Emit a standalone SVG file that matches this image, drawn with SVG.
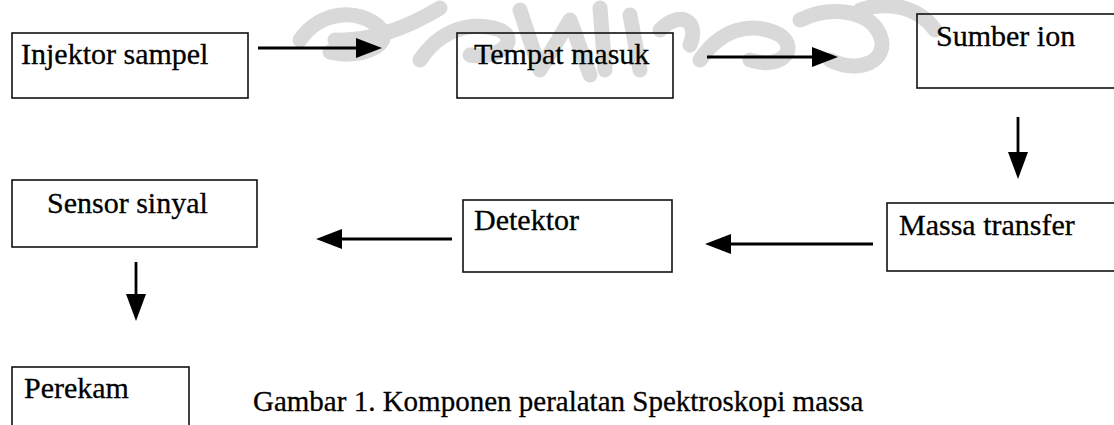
<svg xmlns="http://www.w3.org/2000/svg" width="1114" height="425" viewBox="0 0 1114 425">
  <style>
    .box { fill: none; stroke: #111; stroke-width: 1.6; }
    .lbl { font-family: "Liberation Serif", "Times New Roman", serif; font-size: 30px; fill: #000; stroke: #000; stroke-width: 0.3; }
    .cap { font-family: "Liberation Serif", "Times New Roman", serif; font-size: 29px; fill: #000; stroke: #000; stroke-width: 0.3; }
    .link { stroke: #000; stroke-width: 2.8; fill: none; }
    .tip { fill: #000; }
    .mark { fill: none; stroke: #d9d9d9; stroke-width: 15; stroke-linecap: round; stroke-linejoin: round; }
  </style>

  <rect width="1114" height="425" fill="#fff"/>

  <!-- faint background emblem -->
  <g id="emblem">
    <path class="mark" d="M300,40 C320,10 360,8 380,28 C395,44 360,60 330,52"/>
    <path class="mark" d="M335,40 C380,42 420,20 440,8"/>
    <path class="mark" d="M420,60 C440,30 470,20 500,30 C520,40 500,60 470,55"/>
    <path class="mark" d="M520,10 L540,70 L570,20 L590,75"/>
    <path class="mark" d="M600,8 L605,70 M630,15 L640,70 M660,30 C680,10 700,20 690,45"/>
    <path class="mark" d="M700,60 C720,30 750,20 780,35 C800,50 780,70 750,60"/>
    <path class="mark" d="M800,20 C830,5 870,10 880,35 C890,60 860,75 830,60"/>
    <path class="mark" d="M860,10 C890,0 920,8 935,30"/>
  </g>

  <g id="injektor">
    <rect class="box" x="12" y="33" width="236" height="65"/>
    <text class="lbl" x="21" y="64">Injektor sampel</text>
  </g>
  <g id="tempat">
    <rect class="box" x="457" y="33" width="216" height="65"/>
    <text class="lbl" x="474" y="64">Tempat masuk</text>
  </g>
  <g id="sumber">
    <rect class="box" x="917" y="14" width="200" height="74"/>
    <text class="lbl" x="936" y="46">Sumber ion</text>
  </g>
  <g id="massa">
    <rect class="box" x="887" y="203" width="230" height="68"/>
    <text class="lbl" x="899" y="235">Massa transfer</text>
  </g>
  <g id="detektor">
    <rect class="box" x="463" y="200" width="209" height="72"/>
    <text class="lbl" x="474" y="230">Detektor</text>
  </g>
  <g id="sensor">
    <rect class="box" x="12" y="180" width="245" height="67"/>
    <text class="lbl" x="47" y="213">Sensor sinyal</text>
  </g>
  <g id="perekam">
    <rect class="box" x="12" y="367" width="177" height="70"/>
    <text class="lbl" x="24" y="398">Perekam</text>
  </g>

  <!-- connectors: shaft line plus a filled triangular head -->
  <g id="connectors">
    <line class="link" x1="258" y1="48" x2="360" y2="48"/>
    <polygon class="tip" points="356,38 382,48 356,58"/>

    <line class="link" x1="707" y1="57" x2="816" y2="57"/>
    <polygon class="tip" points="812,47 838,57 812,67"/>

    <line class="link" x1="1018" y1="117" x2="1018" y2="156"/>
    <polygon class="tip" points="1008,152 1028,152 1018,179"/>

    <line class="link" x1="873" y1="244" x2="727" y2="244"/>
    <polygon class="tip" points="731,234 705,244 731,254"/>

    <line class="link" x1="452" y1="239" x2="338" y2="239"/>
    <polygon class="tip" points="342,229 316,239 342,249"/>

    <line class="link" x1="136" y1="262" x2="136" y2="298"/>
    <polygon class="tip" points="126,294 146,294 136,321"/>
  </g>

  <text class="cap" x="253" y="411">Gambar 1. Komponen peralatan Spektroskopi massa</text>
</svg>
